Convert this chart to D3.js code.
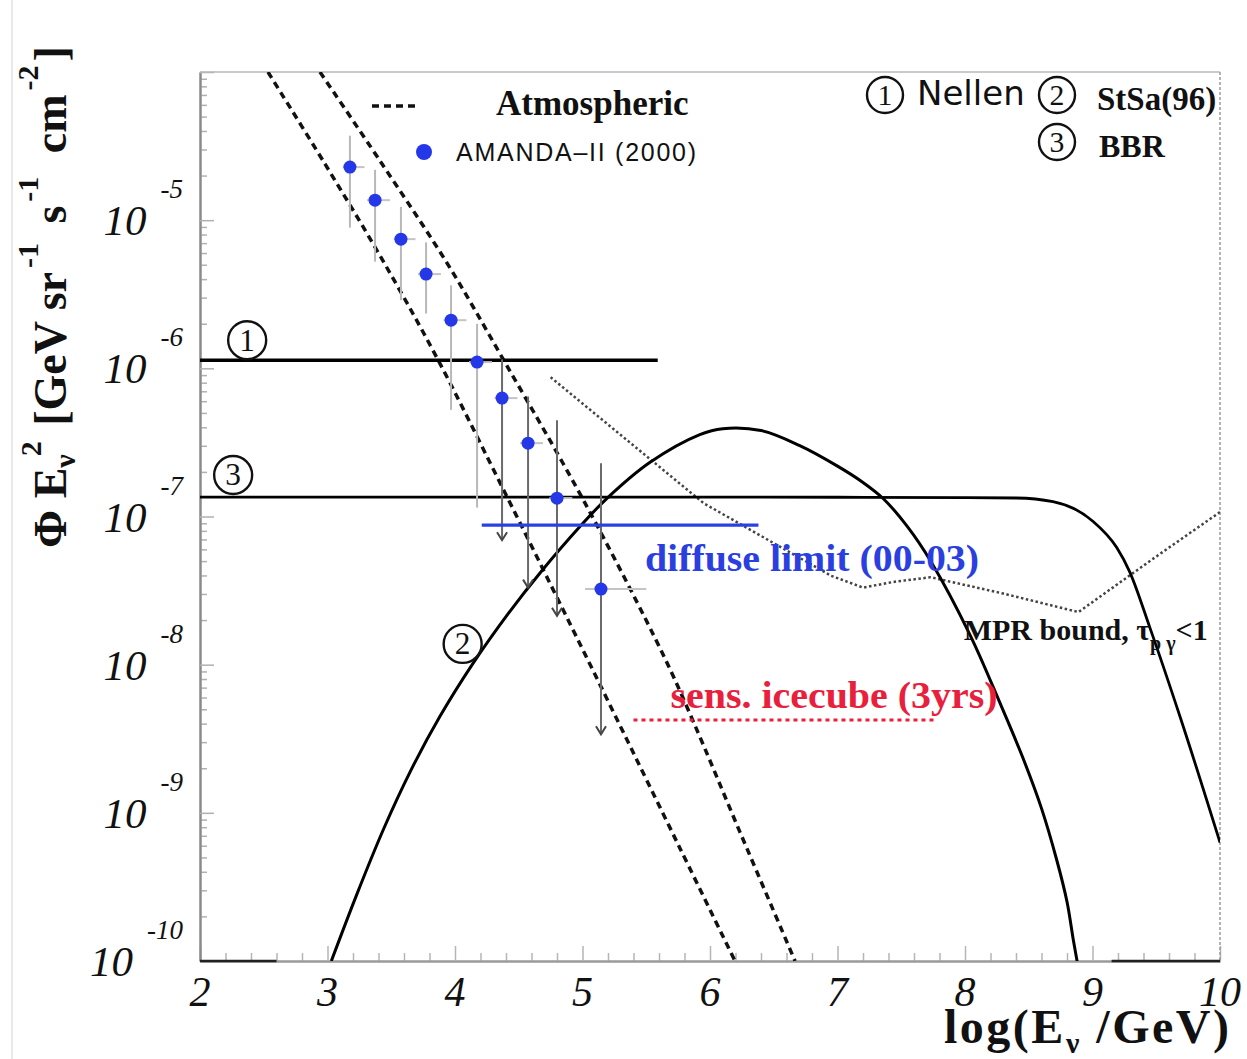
<!DOCTYPE html>
<html>
<head>
<meta charset="utf-8">
<script src="https://cdn.jsdelivr.net/npm/d3@7"></script>
<style>
  body { margin: 0; background: #fff; }
  svg { display: block; }
</style>
</head>
<body>
<svg id="chart" width="1247" height="1059"></svg>
<script>
// ---- data (log10 E in GeV, log10 of E^2 * flux) ----
const xTicks = [2, 3, 4, 5, 6, 7, 8, 9, 10];
const yDecades = [-10, -9, -8, -7, -6, -5];

// atmospheric neutrino band (two dashed edges)
const atmLowE  = [2.533, 2.980, 3.412, 3.859, 4.369, 4.980, 5.271, 5.765, 6.196];
const atmLowF  = [-4.00, -4.62, -5.24, -5.93, -6.80, -7.86, -8.37, -9.24, -10.00];
const atmHighE = [2.941, 3.412, 3.945, 4.392, 5.020, 5.631, 5.867, 6.235, 6.667];
const atmHighF = [-4.00, -4.60, -5.30, -5.96, -6.91, -7.93, -8.38, -9.13, -10.00];

// AMANDA-II (2000) unfolded spectrum
const amandaE   = [3.176, 3.373, 3.576, 3.773, 3.969, 4.173, 4.369, 4.573, 4.800, 5.145];
const amandaF   = [-4.642, -4.865, -5.128, -5.364, -5.675, -5.958, -6.201, -6.505, -6.876, -7.490];
const amandaHi  = [-4.43, -4.66, -4.91, -5.15, -5.44, -5.70, -5.94, -6.19, -6.35, -6.64];
const amandaLo  = [-5.05, -5.28, -5.54, -5.63, -6.28, -6.94, -7.16, -7.48, -7.67, -8.47];
const amandaELo = [3.12, 3.31, 3.52, 3.71, 3.91, 4.11, 4.31, 4.51, 4.74, 5.02];
const amandaEHi = [3.29, 3.49, 3.69, 3.89, 4.09, 4.29, 4.49, 4.69, 4.92, 5.50];
const amandaLimit = [false, false, false, false, false, false, true, true, true, true];

// (1) Nellen model
const nellenE = [2.0, 5.59];
const nellenF = [-5.945, -5.945];

// (2) StSa(96) model
const stsaE = [3.03, 3.23, 3.44, 3.65, 3.88, 4.14, 4.41, 4.67, 4.98, 5.19, 5.53, 5.92, 6.10,
               6.40, 6.70, 7.00, 7.20, 7.36, 7.55, 7.73, 8.04, 8.27, 8.45, 8.60, 8.72, 8.80, 8.85, 8.90];
const stsaF = [-10.0, -9.55, -9.109, -8.72, -8.352, -7.993, -7.664, -7.378, -7.068, -6.879, -6.634, -6.447, -6.407,
               -6.42, -6.52, -6.66, -6.77, -6.88, -7.07, -7.30, -7.80, -8.25, -8.62, -8.97, -9.32, -9.60, -9.86, -10.1];

// (3) BBR model
const bbrE = [2.0, 3.0, 4.0, 5.0, 6.0, 7.0, 8.0, 8.40, 8.69, 9.00, 9.19, 9.29, 9.45, 9.69, 10.0];
const bbrF = [-6.869, -6.869, -6.869, -6.869, -6.869, -6.870, -6.872, -6.875, -6.90, -7.03, -7.21, -7.37, -7.75, -8.36, -9.20];

// MPR bound, tau_p-gamma < 1
const mprE = [4.75, 5.30, 5.95, 6.50, 6.95, 7.20, 7.45, 7.73, 8.30, 8.89, 9.50, 10.0];
const mprF = [-6.06, -6.45, -6.91, -7.18, -7.40, -7.48, -7.44, -7.41, -7.52, -7.645, -7.27, -6.97];

// AMANDA diffuse limit (2000-03) and IceCube 3-year sensitivity
const diffuseE = [4.21, 6.38];
const diffuseF = [-7.058, -7.058];
const icecubeE = [5.40, 7.76];
const icecubeF = [-8.374, -8.374];

// ---- layout ----
const svg = d3.select("#chart");
const plot = { left: 200, right: 1220, top: 72, bottom: 961 };
const x = d3.scaleLinear().domain([2, 10]).range([plot.left, plot.right]);
const y = d3.scaleLog().domain([1e-10, 1e-4]).range([plot.bottom, plot.top]);
const P = v => Math.pow(10, v);
const SERIF = "'Liberation Serif', 'Times New Roman', serif";
const SANS = "'Liberation Sans', Arial, sans-serif";

const zip = (a, b) => a.map((v, i) => [v, b[i]]);

// faint page edge
svg.append("line").attr("x1", 12).attr("x2", 12).attr("y1", 0).attr("y2", 1059)
  .attr("stroke", "#e2e2e2").attr("stroke-width", 1.5);

svg.append("clipPath").attr("id", "plotClip")
  .append("rect").attr("x", plot.left).attr("y", plot.top)
  .attr("width", plot.right - plot.left).attr("height", plot.bottom - plot.top);

// ---- axes ----
const xMinor = d3.range(20, 101, 2).map(v => v / 10).filter(v => v % 1 !== 0);
const gxMinor = svg.append("g").attr("transform", `translate(0,${plot.bottom})`)
  .call(d3.axisBottom(x).tickValues(xMinor).tickSizeInner(-8).tickSizeOuter(0).tickFormat(""));
const gxMajor = svg.append("g").attr("transform", `translate(0,${plot.bottom})`)
  .call(d3.axisBottom(x).tickValues(xTicks).tickSizeInner(-15).tickSizeOuter(0).tickFormat(""));
[gxMinor, gxMajor].forEach(g => {
  g.select(".domain").attr("stroke", "#9a9a9a").attr("stroke-width", 2);
  g.selectAll(".tick line").attr("stroke", "#b5b5b5").attr("stroke-width", 1.5);
});

const yMinor = [];
yDecades.forEach(d => { for (let m = 2; m <= 9; m++) yMinor.push(m * P(d)); });
const yMajor = yDecades.map(P).concat([P(-4)]);
const gyMinor = svg.append("g").attr("transform", `translate(${plot.left},0)`)
  .call(d3.axisLeft(y).tickValues(yMinor).tickSizeInner(-7).tickSizeOuter(0).tickFormat(""));
const gyMajor = svg.append("g").attr("transform", `translate(${plot.left},0)`)
  .call(d3.axisLeft(y).tickValues(yMajor).tickSizeInner(-14).tickSizeOuter(0).tickFormat(""));
[gyMinor, gyMajor].forEach(g => {
  g.select(".domain").attr("stroke", "#8a8a8a").attr("stroke-width", 2);
  g.selectAll(".tick line").attr("stroke", "#b0b0b0").attr("stroke-width", 1.5);
});

// top and right frame
svg.append("line").attr("x1", plot.left).attr("x2", plot.right).attr("y1", plot.top).attr("y2", plot.top)
  .attr("stroke", "#b8b8b8").attr("stroke-width", 1.5);
svg.append("line").attr("x1", plot.right).attr("x2", plot.right).attr("y1", plot.top).attr("y2", plot.bottom)
  .attr("stroke", "#9a9a9a").attr("stroke-width", 1.5).attr("stroke-dasharray", "3,2");
// darker stretches of the lower frame
[[2, 2.6], [9.15, 10]].forEach(([a, b]) => {
  svg.append("line").attr("x1", x(a)).attr("x2", x(b)).attr("y1", plot.bottom).attr("y2", plot.bottom)
    .attr("stroke", "#222").attr("stroke-width", 2.5);
});

// x tick labels
svg.append("g").selectAll("text").data(xTicks).join("text")
  .attr("x", d => x(d)).attr("y", 1006)
  .attr("text-anchor", "middle")
  .attr("font-family", SERIF).attr("font-style", "italic").attr("font-size", 42)
  .attr("fill", "#111")
  .text(d => d);

// y tick labels: 10 with superscript exponent
const yLab = svg.append("g").selectAll("text").data(yDecades).join("text")
  .attr("x", 183).attr("y", d => y(P(d)) + 15)
  .attr("text-anchor", "end")
  .attr("font-family", SERIF).attr("font-style", "italic").attr("fill", "#111");
yLab.append("tspan").attr("font-size", 43).text("10");
yLab.append("tspan").attr("font-size", 27).attr("dx", 14).attr("dy", -37).text(d => String(d));

// axis titles
const xt = svg.append("text").attr("x", 944).attr("y", 1043)
  .attr("font-family", SERIF).attr("font-weight", "bold").attr("font-size", 48).attr("fill", "#111")
  .attr("textLength", 285).attr("lengthAdjust", "spacing");
xt.append("tspan").text("log(E");
xt.append("tspan").attr("font-size", 30).attr("dy", 10).text("ν");
xt.append("tspan").attr("dy", -10).text(" /GeV)");

const yt = svg.append("text").attr("transform", "translate(66,548) rotate(-90)")
  .attr("font-family", SERIF).attr("font-weight", "bold").attr("font-size", 46).attr("fill", "#111");
yt.append("tspan").text("Φ E");
yt.append("tspan").attr("font-size", 30).attr("dy", 9).text("ν");
yt.append("tspan").attr("font-size", 30).attr("dx", -2).attr("dy", -34).text("2");
yt.append("tspan").attr("dx", 4).attr("dy", 25).text(" [GeV sr");
yt.append("tspan").attr("font-size", 30).attr("dx", 4).attr("dy", -28).text("-1");
yt.append("tspan").attr("dx", 8).attr("dy", 28).text(" s");
yt.append("tspan").attr("font-size", 30).attr("dx", 4).attr("dy", -28).text("-1");
yt.append("tspan").attr("dx", 12).attr("dy", 28).text(" cm");
yt.append("tspan").attr("font-size", 30).attr("dx", 4).attr("dy", -28).text("-2");
yt.append("tspan").attr("dx", 4).attr("dy", 28).text("]");

// ---- curves ----
const plotG = svg.append("g").attr("clip-path", "url(#plotClip)");
const lineOf = curve => d3.line().x(d => x(d[0])).y(d => y(P(d[1]))).curve(curve);

plotG.append("path").datum(zip(atmLowE, atmLowF))
  .attr("d", lineOf(d3.curveCatmullRom)).attr("fill", "none")
  .attr("stroke", "#111").attr("stroke-width", 3.5).attr("stroke-dasharray", "7,5");
plotG.append("path").datum(zip(atmHighE, atmHighF))
  .attr("d", lineOf(d3.curveCatmullRom)).attr("fill", "none")
  .attr("stroke", "#111").attr("stroke-width", 3.5).attr("stroke-dasharray", "7,5");

plotG.append("path").datum(zip(mprE, mprF))
  .attr("d", lineOf(d3.curveLinear)).attr("fill", "none")
  .attr("stroke", "#444").attr("stroke-width", 2.5).attr("stroke-dasharray", "2.5,2.5");

plotG.append("path").datum(zip(nellenE, nellenF))
  .attr("d", lineOf(d3.curveLinear)).attr("fill", "none")
  .attr("stroke", "#000").attr("stroke-width", 3.5);

plotG.append("path").datum(zip(bbrE, bbrF))
  .attr("d", lineOf(d3.curveMonotoneX)).attr("fill", "none")
  .attr("stroke", "#000").attr("stroke-width", 2.8);

plotG.append("path").datum(zip(stsaE, stsaF))
  .attr("d", lineOf(d3.curveCatmullRom)).attr("fill", "none")
  .attr("stroke", "#000").attr("stroke-width", 3);

plotG.append("path").datum(zip(icecubeE, icecubeF))
  .attr("d", lineOf(d3.curveLinear)).attr("fill", "none")
  .attr("stroke", "#e8203c").attr("stroke-width", 3).attr("stroke-dasharray", "4,4");

// AMANDA-II points with error bars
const pts = amandaE.map((e, i) => ({
  e, f: amandaF[i], hi: amandaHi[i], lo: amandaLo[i],
  eLo: amandaELo[i], eHi: amandaEHi[i], lim: amandaLimit[i]
}));
const pg = plotG.append("g");
pg.selectAll("line.ebx").data(pts).join("line").attr("class", "ebx")
  .attr("x1", d => x(d.eLo)).attr("x2", d => x(d.eHi))
  .attr("y1", d => y(P(d.f))).attr("y2", d => y(P(d.f)))
  .attr("stroke", "#c4c4c4").attr("stroke-width", 2);
pg.selectAll("line.eby").data(pts).join("line").attr("class", "eby")
  .attr("x1", d => x(d.e)).attr("x2", d => x(d.e))
  .attr("y1", d => y(P(d.hi))).attr("y2", d => y(P(d.lo)))
  .attr("stroke", d => d.lim ? "#6a6a6a" : "#b8b8b8").attr("stroke-width", 2);
pg.selectAll("path.arrow").data(pts.filter(d => d.lim)).join("path").attr("class", "arrow")
  .attr("d", d => {
    const cx = x(d.e), cy = y(P(d.lo));
    return `M${cx - 5},${cy - 8}L${cx},${cy}L${cx + 5},${cy - 8}`;
  })
  .attr("fill", "none").attr("stroke", "#444").attr("stroke-width", 2);

plotG.append("path").datum(zip(diffuseE, diffuseF))
  .attr("d", lineOf(d3.curveLinear)).attr("fill", "none")
  .attr("stroke", "#2b3fe6").attr("stroke-width", 3.2);

pg.selectAll("circle").data(pts).join("circle")
  .attr("cx", d => x(d.e)).attr("cy", d => y(P(d.f))).attr("r", 6.5)
  .attr("fill", "#2438e8");

// ---- annotations ----
function circled(px, py, label, r) {
  const g = svg.append("g");
  g.append("circle").attr("cx", px).attr("cy", py).attr("r", r)
    .attr("fill", "none").attr("stroke", "#111").attr("stroke-width", 2.4);
  g.append("text").attr("x", px).attr("y", py + r * 0.55)
    .attr("text-anchor", "middle").attr("font-family", SERIF)
    .attr("font-size", r * 1.65).attr("fill", "#111").text(label);
}
circled(x(2.37), y(P(-5.81)), "1", 19);
circled(x(2.26), y(P(-6.72)), "3", 19);
circled(x(4.06), y(P(-7.86)), "2", 19);

// model key (top right)
circled(885, 95, "1", 18);
svg.append("text").attr("x", 917).attr("y", 105)
  .attr("font-family", "'DejaVu Sans', sans-serif").attr("font-size", 34).attr("fill", "#111")
  .text("Nellen");
circled(1057, 95, "2", 18);
svg.append("text").attr("x", 1097).attr("y", 110)
  .attr("font-family", SERIF).attr("font-weight", "bold").attr("font-size", 33).attr("fill", "#111")
  .text("StSa(96)");
circled(1057, 142, "3", 18);
svg.append("text").attr("x", 1099).attr("y", 157)
  .attr("font-family", SERIF).attr("font-weight", "bold").attr("font-size", 32).attr("fill", "#111")
  .text("BBR");

// legend
svg.append("line").attr("x1", 372).attr("x2", 418).attr("y1", 106).attr("y2", 106)
  .attr("stroke", "#111").attr("stroke-width", 3.5).attr("stroke-dasharray", "7,5");
svg.append("text").attr("x", 496).attr("y", 115)
  .attr("font-family", SERIF).attr("font-weight", "bold").attr("font-size", 35).attr("fill", "#111")
  .text("Atmospheric");
svg.append("circle").attr("cx", 424).attr("cy", 152).attr("r", 8).attr("fill", "#2438e8");
svg.append("text").attr("x", 456).attr("y", 161)
  .attr("font-family", SANS).attr("font-size", 25).attr("fill", "#111")
  .attr("textLength", 240).attr("lengthAdjust", "spacing")
  .text("AMANDA–II (2000)");

// in-plot labels
svg.append("text").attr("x", x(5.49)).attr("y", 571)
  .attr("font-family", SERIF).attr("font-weight", "bold").attr("font-size", 38).attr("fill", "#2b3fe0")
  .attr("textLength", 334).attr("lengthAdjust", "spacingAndGlyphs")
  .text("diffuse limit (00-03)");
svg.append("text").attr("x", x(5.69)).attr("y", 708)
  .attr("font-family", SERIF).attr("font-weight", "bold").attr("font-size", 38).attr("fill", "#e8203c")
  .attr("textLength", 327).attr("lengthAdjust", "spacingAndGlyphs")
  .text("sens. icecube (3yrs)");
const mpr = svg.append("text").attr("x", x(7.99)).attr("y", 640)
  .attr("font-family", SERIF).attr("font-weight", "bold").attr("font-size", 30).attr("fill", "#111");
mpr.append("tspan").text("MPR bound, τ");
mpr.append("tspan").attr("font-size", 20).attr("dy", 10).text("p γ");
mpr.append("tspan").attr("dy", -10).text("<1");
</script>
</body>
</html>
